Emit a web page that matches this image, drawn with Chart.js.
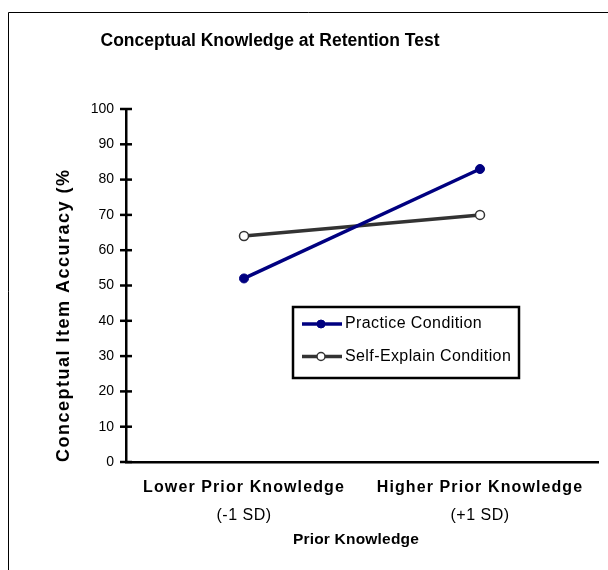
<!DOCTYPE html>
<html><head><meta charset="utf-8">
<script src="https://cdn.jsdelivr.net/npm/chart.js@4"></script>
<style>html,body{margin:0;padding:0;background:#fff}#wrap{position:relative;width:608px;height:570px}</style>
</head><body><div id="wrap"><canvas id="c" width="608" height="570"></canvas></div>
<script>
const chartTitle = 'Conceptual Knowledge at Retention Test';
const categories = ['Lower Prior Knowledge', 'Higher Prior Knowledge'];
const categorySubLabels = ['(-1 SD)', '(+1 SD)'];
const xAxisTitle = 'Prior Knowledge';
const yAxisTitle = 'Conceptual Item Accuracy (%';
const yTickValues = [0, 10, 20, 30, 40, 50, 60, 70, 80, 90, 100];
const seriesNames = ['Practice Condition', 'Self-Explain Condition'];
const practiceValues = [52, 83];
const selfExplainValues = [64, 70];

const FONT = "'Liberation Sans', Arial, sans-serif";

function txt(ctx, s, x, y, font, spacing, align, rot) {
  ctx.save();
  ctx.translate(x, y);
  if (rot) ctx.rotate(rot);
  ctx.font = font;
  ctx.fillStyle = '#000';
  ctx.textAlign = align;
  ctx.textBaseline = 'middle';
  if ('letterSpacing' in ctx) ctx.letterSpacing = spacing + 'px';
  ctx.fillText(s, 0, 0);
  ctx.restore();
}

const decor = {
  id: 'decor',
  beforeDraw(chart) {
    const ctx = chart.ctx;
    ctx.save();
    ctx.strokeStyle = '#000';
    ctx.lineWidth = 1;
    ctx.beginPath();
    ctx.moveTo(8.5, 570); ctx.lineTo(8.5, 12.5); ctx.lineTo(608, 12.5);
    ctx.stroke();
    ctx.restore();
  },
  afterDatasetsDraw(chart) {
    const { ctx, scales: { x, y }, chartArea } = chart;
    ctx.save();
    ctx.strokeStyle = '#000';
    ctx.lineWidth = 2.5;
    y.ticks.forEach(t => {
      const py = y.getPixelForValue(t.value);
      ctx.beginPath();
      ctx.moveTo(chartArea.left - 6, py);
      ctx.lineTo(chartArea.left + 6, py);
      ctx.stroke();
    });
    ctx.restore();

    txt(ctx, chartTitle, 270, 41, `bold 17.5px ${FONT}`, 0, 'center');
    categories.forEach((c, i) => {
      const px = x.getPixelForValue(i);
      txt(ctx, c, px, 488, `bold 16px ${FONT}`, 1.1, 'center');
      txt(ctx, categorySubLabels[i], px, 516, `16px ${FONT}`, 0.5, 'center');
    });
    txt(ctx, xAxisTitle, 356, 540, `bold 15.5px ${FONT}`, 0.2, 'center');
    txt(ctx, yAxisTitle, 64, chartArea.bottom, `bold 18px ${FONT}`, 1.5, 'left', -Math.PI / 2);

    ctx.save();
    ctx.fillStyle = '#fff';
    ctx.fillRect(293, 307, 226, 71);
    ctx.strokeStyle = '#000';
    ctx.lineWidth = 2.5;
    ctx.strokeRect(293, 307, 226, 71);
    chart.data.datasets.forEach((ds, i) => {
      const ry = 324 + i * 32.5;
      ctx.strokeStyle = ds.borderColor;
      ctx.lineWidth = 3.5;
      ctx.beginPath(); ctx.moveTo(302, ry); ctx.lineTo(342, ry); ctx.stroke();
      ctx.beginPath(); ctx.arc(321, ry, 4, 0, Math.PI * 2);
      ctx.fillStyle = ds.pointBackgroundColor; ctx.fill();
      ctx.lineWidth = ds.pointBorderWidth; ctx.strokeStyle = ds.pointBorderColor; ctx.stroke();
      txt(ctx, ds.label, 345, ry, `16px ${FONT}`, 0.4, 'left');
    });
    ctx.restore();
  }
};

new Chart(document.getElementById('c'), {
  type: 'line',
  data: {
    labels: categories,
    datasets: [
      {
        label: seriesNames[0], data: practiceValues,
        borderColor: '#000080', backgroundColor: '#000080', borderWidth: 3.5,
        pointRadius: 4.5, pointBackgroundColor: '#000080', pointBorderColor: '#000080', pointBorderWidth: 1,
        tension: 0
      },
      {
        label: seriesNames[1], data: selfExplainValues,
        borderColor: '#333333', backgroundColor: '#ffffff', borderWidth: 3.5,
        pointRadius: 4.5, pointBackgroundColor: '#ffffff', pointBorderColor: '#333333', pointBorderWidth: 1.5,
        tension: 0
      }
    ]
  },
  options: {
    responsive: false,
    devicePixelRatio: 1,
    animation: false,
    layout: { padding: { top: 109, right: 10, bottom: 0, left: 0 } },
    plugins: { legend: { display: false }, title: { display: false }, tooltip: { enabled: false } },
    scales: {
      x: {
        type: 'category', offset: true,
        grid: { display: false, drawTicks: false },
        border: { display: true, color: '#000', width: 2.5 },
        ticks: { display: false },
        afterFit: s => { s.height = 108; }
      },
      y: {
        min: 0, max: 100,
        grid: { display: false, drawTicks: false },
        border: { display: true, color: '#000', width: 2.5 },
        afterBuildTicks: s => { s.ticks = yTickValues.map(v => ({ value: v })); },
        ticks: { padding: 12, color: '#000', font: { family: FONT, size: 14 } },
        afterFit: s => { s.width = 126; }
      }
    }
  },
  plugins: [decor]
});
</script></body></html>
